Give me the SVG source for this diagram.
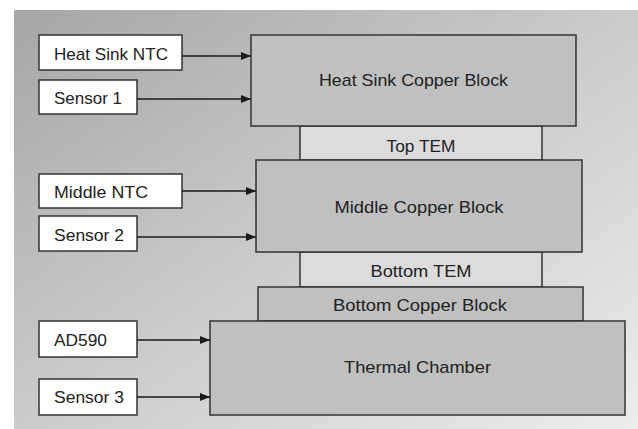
<svg xmlns="http://www.w3.org/2000/svg" width="638" height="429" viewBox="0 0 638 429">
<defs>
<linearGradient id="bg" x1="0" y1="0" x2="1" y2="1">
<stop offset="0" stop-color="#a6a6a6"/>
<stop offset="0.5" stop-color="#cbcbcb"/>
<stop offset="1" stop-color="#ededed"/>
</linearGradient>
<marker id="ah" markerWidth="10" markerHeight="8" refX="10" refY="4" orient="auto" markerUnits="userSpaceOnUse">
<path d="M0,0 L10,4 L0,8 Z" fill="#1a1a1a"/>
</marker>
<style>
.src{fill:#ffffff;stroke:#333;stroke-width:1.5}
.blk{fill:#c0c0c0;stroke:#333;stroke-width:1.5}
.tem{fill:#dcdcdc;stroke:#333;stroke-width:1.5}
.t{font-family:"Liberation Sans",Arial,sans-serif;font-size:17px;fill:#222}
.c{text-anchor:middle}
.ln{stroke:#1a1a1a;stroke-width:1.5;fill:none;marker-end:url(#ah)}
</style>
</defs>
<rect x="0" y="0" width="638" height="429" fill="#ffffff"/>
<rect x="14" y="10" width="624" height="419" fill="url(#bg)"/>
<g id="top-tem"><rect class="tem" x="300" y="126" width="242" height="34"/><text class="t c" x="421" y="152" textLength="69" lengthAdjust="spacingAndGlyphs">Top TEM</text></g>
<g id="bottom-tem"><rect class="tem" x="300" y="252" width="242" height="35"/><text class="t c" x="421" y="277" textLength="101" lengthAdjust="spacingAndGlyphs">Bottom TEM</text></g>
<g id="heat-sink-block"><rect class="blk" x="251" y="35" width="325" height="91"/><text class="t c" x="413.5" y="86" textLength="189" lengthAdjust="spacingAndGlyphs">Heat Sink Copper Block</text></g>
<g id="middle-block"><rect class="blk" x="256" y="160" width="326" height="92"/><text class="t c" x="419" y="213" textLength="169" lengthAdjust="spacingAndGlyphs">Middle Copper Block</text></g>
<g id="bottom-block"><rect class="blk" x="258" y="287" width="325" height="34"/><text class="t c" x="420" y="311" textLength="174" lengthAdjust="spacingAndGlyphs">Bottom Copper Block</text></g>
<g id="thermal-chamber"><rect class="blk" x="210" y="321" width="415" height="94"/><text class="t c" x="417.5" y="373" textLength="147" lengthAdjust="spacingAndGlyphs">Thermal Chamber</text></g>
<g id="heat-sink-ntc"><rect class="src" x="39" y="35" width="143" height="35"/><text class="t" x="54" y="60" textLength="114" lengthAdjust="spacingAndGlyphs">Heat Sink NTC</text></g>
<g id="sensor1"><rect class="src" x="39" y="80" width="98" height="34"/><text class="t" x="54" y="104" textLength="68" lengthAdjust="spacingAndGlyphs">Sensor 1</text></g>
<g id="middle-ntc"><rect class="src" x="39" y="174" width="143" height="34"/><text class="t" x="54" y="198" textLength="94" lengthAdjust="spacingAndGlyphs">Middle NTC</text></g>
<g id="sensor2"><rect class="src" x="39" y="216" width="98" height="35"/><text class="t" x="54" y="241" textLength="70" lengthAdjust="spacingAndGlyphs">Sensor 2</text></g>
<g id="ad590"><rect class="src" x="39" y="321" width="98" height="36"/><text class="t" x="54" y="346" textLength="53" lengthAdjust="spacingAndGlyphs">AD590</text></g>
<g id="sensor3"><rect class="src" x="39" y="379" width="98" height="36"/><text class="t" x="54" y="403" textLength="70" lengthAdjust="spacingAndGlyphs">Sensor 3</text></g>
<g id="connectors">
<line class="ln" x1="182" y1="56" x2="251" y2="56"/>
<line class="ln" x1="137" y1="99" x2="251" y2="99"/>
<line class="ln" x1="182" y1="191" x2="256" y2="191"/>
<line class="ln" x1="137" y1="237" x2="256" y2="237"/>
<line class="ln" x1="137" y1="340" x2="210" y2="340"/>
<line class="ln" x1="137" y1="397" x2="210" y2="397"/>
</g>
</svg>
